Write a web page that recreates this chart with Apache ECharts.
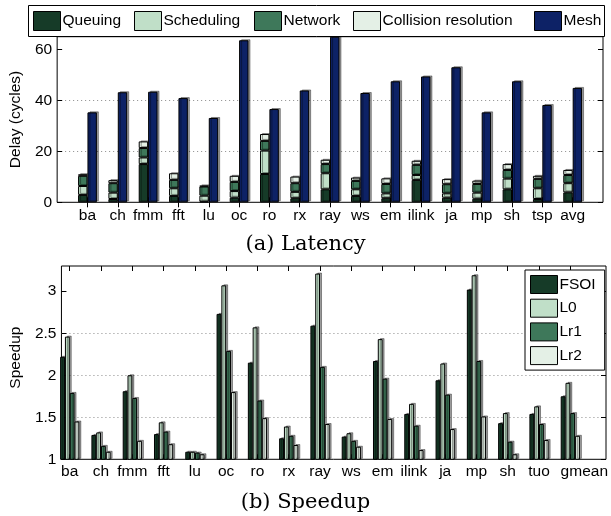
<!DOCTYPE html>
<html><head><meta charset="utf-8">
<script src="https://cdn.jsdelivr.net/npm/echarts@6/dist/echarts.min.js"></script>
<style>html,body{margin:0;padding:0;background:#fff}#c{width:611px;height:516px}</style>
</head><body><div id="c"></div>
<script>
// ---- (a) Latency data ----
const latencyCategories = ['ba','ch','fmm','fft','lu','oc','ro','rx','ray','ws','em','ilink','ja','mp','sh','tsp','avg'];
const queuing    = [2.9, 1.3, 15.0, 2.5, 0.3, 1.8, 11.1, 1.6, 5.1, 2.5, 1.6, 8.8, 1.8, 1.4, 5.1, 1.3, 3.9];
const scheduling = [3.5, 2.5, 2.6, 3.0, 2.3, 2.6, 9.2, 2.5, 6.3, 2.6, 1.9, 1.9, 1.7, 2.4, 4.2, 4.2, 3.6];
const network    = [4.0, 3.7, 3.7, 3.3, 3.6, 3.6, 3.8, 3.4, 3.6, 3.3, 3.7, 4.0, 3.6, 3.4, 3.4, 3.7, 3.2];
const collision  = [0.6, 1.2, 2.6, 2.6, 0.3, 2.4, 2.7, 2.6, 1.7, 1.3, 2.2, 1.6, 2.0, 1.3, 2.3, 1.2, 2.0];
const mesh       = [35.3, 43.2, 43.4, 40.9, 33.1, 63.6, 36.6, 43.9, 65.0, 42.9, 47.5, 49.4, 53.0, 35.3, 47.5, 38.2, 44.9];
const latencyTicks = [0, 20, 40, 60];

// ---- (b) Speedup data ----
const speedupCategories = ['ba','ch','fmm','fft','lu','oc','ro','rx','ray','ws','em','ilink','ja','mp','sh','tuo','gmean'];
const fsoi = [2.22, 1.29, 1.81, 1.30, 1.09, 2.73, 2.15, 1.25, 2.59, 1.27, 2.17, 1.54, 1.94, 3.02, 1.43, 1.54, 1.75];
const l0   = [2.46, 1.32, 2.00, 1.44, 1.09, 3.07, 2.57, 1.39, 3.21, 1.31, 2.43, 1.66, 2.14, 3.19, 1.55, 1.63, 1.91];
const lr1  = [1.79, 1.16, 1.73, 1.33, 1.08, 2.29, 1.70, 1.28, 2.10, 1.22, 1.96, 1.40, 1.77, 2.17, 1.21, 1.42, 1.55];
const lr2  = [1.45, 1.09, 1.22, 1.18, 1.06, 1.80, 1.49, 1.17, 1.42, 1.15, 1.48, 1.11, 1.36, 1.51, 1.06, 1.23, 1.28];
const speedupTicks = [1, 1.5, 2, 2.5, 3];

const FONT = 'Liberation Sans';
const FS = 15.5;
const C_DARK = '#163b28', C_LIGHT = '#c0dfc8', C_MED = '#3e785a', C_PALE = '#e4f0e6', C_NAVY = '#0d2266';

// category axes padded with an empty slot at each end (plot runs from slot 0 to slot 18)
const pad = arr => [''].concat(arr, ['']);
const padV = arr => [null].concat(arr, [null]);

const barStyle = c => ({color: c, borderColor: '#000', borderWidth: 1,
  shadowColor: 'rgba(0,0,0,0.38)', shadowOffsetX: 2, shadowOffsetY: -1, shadowBlur: 0});

const dotted = {show: true, showMinLine: false, showMaxLine: false,
  lineStyle: {color: '#8a8a8a', type: [1, 3], width: 1}};

const notPad = (i, v) => v !== '';

function catAxes(grid, cats, margin, formatter, rich) {
  return [
    {gridIndex: grid, type: 'category', data: pad(cats), boundaryGap: false, position: 'bottom',
     axisLine: {show: false}, splitLine: {show: false},
     axisTick: {show: true, inside: true, length: 5, interval: notPad, lineStyle: {color: '#000'}},
     axisLabel: {interval: 0, fontFamily: FONT, fontSize: FS, color: '#000', margin: margin,
       formatter: formatter, rich: rich}},
    {gridIndex: grid, type: 'category', data: pad(cats), boundaryGap: false, position: 'top',
     axisLine: {show: false}, splitLine: {show: false},
     axisTick: {show: true, inside: true, length: 5, interval: notPad, lineStyle: {color: '#000'}},
     axisLabel: {show: false}}
  ];
}
function yAxes(grid, min, max, interval, ticks, name, nameGap, namePad) {
  return [
    {gridIndex: grid, type: 'value', min: min, max: max, interval: interval, position: 'left',
     name: name, nameLocation: 'middle', nameGap: nameGap,
     nameTextStyle: {fontFamily: FONT, fontSize: FS, color: '#000', padding: namePad},
     axisLine: {show: false},
     axisTick: {show: true, inside: true, length: 5, customValues: ticks, lineStyle: {color: '#000'}},
     axisLabel: {customValues: ticks, fontFamily: FONT, fontSize: FS, color: '#000', margin: 5},
     splitLine: dotted},
    {gridIndex: grid, type: 'value', min: min, max: max, interval: interval, position: 'right',
     axisLine: {show: false}, splitLine: {show: false},
     axisTick: {show: true, inside: true, length: 5, customValues: ticks, lineStyle: {color: '#000'}},
     axisLabel: {show: false}}
  ];
}

const legendItemStyle = {borderColor: '#000', borderWidth: 1, shadowColor: 'rgba(0,0,0,0)',
  shadowBlur: 0, shadowOffsetX: 0, shadowOffsetY: 0};
const legendText = {fontFamily: FONT, fontSize: FS, color: '#000', padding: [0, 0, 0, -3]};

const topLegendNames = ['Queuing', 'Scheduling', 'Network', 'Collision resolution', 'Mesh'];
const topLegendLeft = [33, 134, 254, 353, 534];

// the last speedup label sits a little right of its tick in the original
const lastLabel = speedupCategories[speedupCategories.length - 1];
const speedupLabel = v => v === lastLabel ? '{shift|' + v + '}' : v;
const speedupRich = {shift: {fontFamily: FONT, fontSize: FS, color: '#000', padding: [0, 0, 0, 28]}};

const option = {
  animation: false,
  backgroundColor: '#fff',
  title: [
    {text: '(a) Latency', left: 'center', top: 234, padding: 0,
     textStyle: {fontFamily: 'DejaVu Serif', fontSize: 21, fontWeight: 'normal', color: '#000', lineHeight: 22}},
    {text: '(b) Speedup', left: 'center', top: 492, padding: 0,
     textStyle: {fontFamily: 'DejaVu Serif', fontSize: 21, fontWeight: 'normal', color: '#000', lineHeight: 22}}
  ],
  graphic: [
    {type: 'rect', z: 3, shape: {x: 28.5, y: 5.5, width: 576, height: 31},
     style: {fill: '#fff', stroke: '#000', lineWidth: 1}}
  ],
  legend: topLegendNames.map((n, i) => ({
     data: [n], left: topLegendLeft[i], top: 11, orient: 'horizontal', itemWidth: 27, itemHeight: 19,
     padding: 0, icon: 'rect', itemStyle: legendItemStyle, textStyle: legendText, z: 5
  })).concat([
    {data: ['FSOI', 'L0', 'Lr1', 'Lr2'],
     left: 525, top: 270, orient: 'vertical', itemWidth: 27, itemHeight: 18, itemGap: 4.7,
     padding: [5, 9, 5, 5], backgroundColor: '#fff', borderColor: '#000', borderWidth: 1,
     icon: 'rect', itemStyle: legendItemStyle, textStyle: legendText}
  ]),
  grid: [
    // (a) latency plot
    {left: 50.7, right: 8, top: 36.7, height: 165.6, show: true, borderColor: '#000', borderWidth: 1, backgroundColor: 'transparent'},
    // (b) speedup frame (axes box, y ticks, grid lines)
    {left: 50.7, right: 5, top: 266, height: 193.3, show: true, borderColor: '#000', borderWidth: 1, backgroundColor: 'transparent'},
    // (b) speedup bar positions (categories)
    {left: 38.45, right: 4.75, top: 266, height: 193.3, show: false}
  ],
  xAxis: [].concat(
    catAxes(0, latencyCategories, 5),
    [{gridIndex: 1, type: 'value', min: 0, max: 1, show: false}],
    catAxes(2, speedupCategories, 4, speedupLabel, speedupRich)
  ),
  yAxis: [].concat(
    yAxes(0, 0, 65, 20, latencyTicks, 'Delay (cycles)', 25),
    yAxes(1, 1, 3.3, 0.5, speedupTicks, 'Speedup', 28.5, [0, 0, 0, 10]),
    [{gridIndex: 2, type: 'value', min: 1, max: 3.3, show: false, splitLine: {show: false}}]
  ),
  series: [
    {name: 'Queuing', type: 'bar', xAxisIndex: 0, yAxisIndex: 0, stack: 'lat', data: padV(queuing), barWidth: 9.4, barGap: '0%', itemStyle: barStyle(C_DARK)},
    {name: 'Scheduling', type: 'bar', xAxisIndex: 0, yAxisIndex: 0, stack: 'lat', data: padV(scheduling), barWidth: 9.4, barGap: '0%', itemStyle: barStyle(C_LIGHT)},
    {name: 'Network', type: 'bar', xAxisIndex: 0, yAxisIndex: 0, stack: 'lat', data: padV(network), barWidth: 9.4, barGap: '0%', itemStyle: barStyle(C_MED)},
    {name: 'Collision resolution', type: 'bar', xAxisIndex: 0, yAxisIndex: 0, stack: 'lat', data: padV(collision), barWidth: 9.4, barGap: '0%', itemStyle: barStyle(C_PALE)},
    {name: 'Mesh', type: 'bar', xAxisIndex: 0, yAxisIndex: 0, data: padV(mesh), barWidth: 9.4, barGap: '0%', itemStyle: barStyle(C_NAVY)},

    {name: 'FSOI', type: 'bar', xAxisIndex: 3, yAxisIndex: 4, data: padV(fsoi), barWidth: 4.8, barGap: '0%', itemStyle: barStyle(C_DARK)},
    {name: 'L0', type: 'bar', xAxisIndex: 3, yAxisIndex: 4, data: padV(l0), barWidth: 4.8, barGap: '0%', itemStyle: barStyle(C_LIGHT)},
    {name: 'Lr1', type: 'bar', xAxisIndex: 3, yAxisIndex: 4, data: padV(lr1), barWidth: 4.8, barGap: '0%', itemStyle: barStyle(C_MED)},
    {name: 'Lr2', type: 'bar', xAxisIndex: 3, yAxisIndex: 4, data: padV(lr2), barWidth: 4.8, barGap: '0%', itemStyle: barStyle(C_PALE)}
  ]
};

const chart = echarts.init(document.getElementById('c'), null, {renderer: 'canvas'});
chart.setOption(option);
</script>
</body></html>
